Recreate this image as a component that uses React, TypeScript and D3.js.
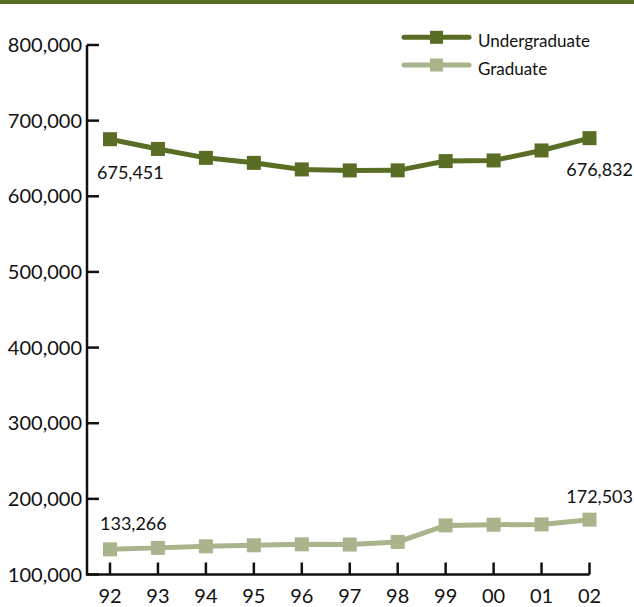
import React from "react";
import * as d3 from "d3";

// Fall enrollment, 1992–2002
const years = ["92", "93", "94", "95", "96", "97", "98", "99", "00", "01", "02"];
const undergraduate = [675451, 662600, 650800, 644200, 635500, 634200, 634300, 646500, 647400, 660600, 676832];
const graduate = [133266, 135200, 137300, 138600, 139900, 139600, 143100, 164900, 165800, 166200, 172503];
const yTicks = [100000, 200000, 300000, 400000, 500000, 600000, 700000, 800000];

const W = 634;
const H = 607;
const DARK = "#596e24";
const LIGHT = "#a8b48c";
const FONT = "Lato, 'Open Sans', sans-serif";

export default function App() {
  const x = d3.scalePoint<string>().domain(years).range([110, 589.5]);
  const y = d3.scaleLinear().domain([100000, 800000]).range([574.5, 45]);
  const line = d3
    .line<number>()
    .x((_, i) => x(years[i]) as number)
    .y((d) => y(d));
  const fmt = d3.format(",");
  const axisX = 87;
  const axisY = y(100000);
  const last = years.length - 1;

  const series = [
    { name: "Undergraduate", values: undergraduate, color: DARK },
    { name: "Graduate", values: graduate, color: LIGHT },
  ];

  return (
    <svg
      width={W}
      height={H}
      style={{ position: "absolute", left: 0, top: 0, background: "#fff" }}
      fontFamily={FONT}
    >
      <rect x={0} y={0} width={W} height={4} fill={DARK} />

      {/* axes */}
      <path
        d={`M${axisX},${y(800000)}V${axisY}H${x(years[last])}`}
        fill="none"
        stroke="#111"
        strokeWidth={2.5}
      />
      {yTicks.map((t) => (
        <g key={t}>
          <line x1={axisX} x2={99} y1={y(t)} y2={y(t)} stroke="#111" strokeWidth={2.5} />
          <text x={82} y={y(t)} dy="0.36em" textAnchor="end" fontSize={20} fill="#111">
            {fmt(t)}
          </text>
        </g>
      ))}
      {years.map((yr) => (
        <g key={yr}>
          <line
            x1={x(yr)}
            x2={x(yr)}
            y1={axisY}
            y2={axisY - 12}
            stroke="#111"
            strokeWidth={2.5}
          />
          <text x={x(yr)} y={603} textAnchor="middle" fontSize={20} fill="#111">
            {yr}
          </text>
        </g>
      ))}

      {/* series */}
      {series.map((s) => (
        <g key={s.name}>
          <path d={line(s.values) as string} fill="none" stroke={s.color} strokeWidth={5} />
          {s.values.map((v, i) => (
            <rect
              key={i}
              x={(x(years[i]) as number) - 7}
              y={y(v) - 7}
              width={14}
              height={14}
              fill={s.color}
            />
          ))}
        </g>
      ))}

      {/* end-point value labels */}
      <text x={97} y={y(undergraduate[0]) + 40} fontSize={18} fill="#111">
        {fmt(undergraduate[0])}
      </text>
      <text x={633} y={y(undergraduate[last]) + 38} textAnchor="end" fontSize={18} fill="#111">
        {fmt(undergraduate[last])}
      </text>
      <text x={100} y={y(graduate[0]) - 19} fontSize={18} fill="#111">
        {fmt(graduate[0])}
      </text>
      <text x={633} y={y(graduate[last]) - 17} textAnchor="end" fontSize={18} fill="#111">
        {fmt(graduate[last])}
      </text>

      {/* legend */}
      {series.map((s, i) => {
        const ly = 37.3 + i * 27.7;
        return (
          <g key={s.name}>
            <line
              x1={404}
              x2={469}
              y1={ly}
              y2={ly}
              stroke={s.color}
              strokeWidth={5}
              strokeLinecap="round"
            />
            <rect x={430} y={ly - 6.5} width={13} height={13} fill={s.color} />
            <text x={478} y={ly + 10} fontSize={17} fill="#111">
              {s.name}
            </text>
          </g>
        );
      })}
    </svg>
  );
}
